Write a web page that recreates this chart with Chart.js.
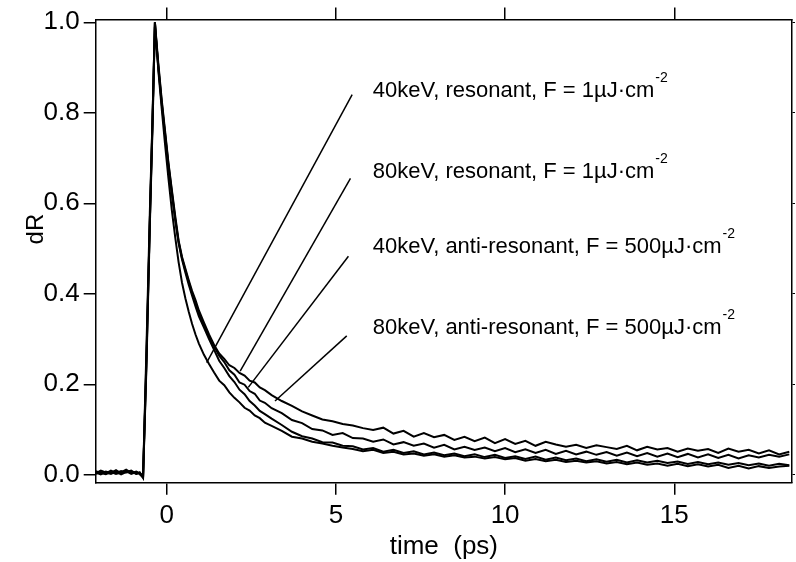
<!DOCTYPE html>
<html>
<head>
<meta charset="utf-8">
<script src="https://cdn.jsdelivr.net/npm/chart.js@4.4.1/dist/chart.umd.min.js"></script>
<style>
  html, body { margin: 0; padding: 0; background: #fff; }
  #wrap { width: 796px; height: 562px; }
</style>
</head>
<body>
<div id="wrap"><canvas id="grafico" width="796" height="562"></canvas></div>
<script>
// eje de tiempo (ps)
const time = [
  -2.1, -1.95, -1.8, -1.65, -1.5, -1.35, -1.2, -1.05, -0.9, -0.8, -0.7,
  -0.6, -0.5, -0.42, -0.35,
  -0.25, -0.15, -0.05, 0.05, 0.15, 0.25, 0.35, 0.45, 0.55, 0.65, 0.75, 0.85, 0.95,
  1.1, 1.25, 1.4, 1.55, 1.7, 1.85, 2.0, 2.15, 2.3, 2.45, 2.6, 2.75, 2.9,
  3.1, 3.4, 3.7, 4.0, 4.3, 4.6, 4.9, 5.2, 5.5, 5.8,
  6.1, 6.4, 6.7, 7.0, 7.3, 7.6, 7.9, 8.2, 8.5, 8.8,
  9.1, 9.4, 9.7, 10.0, 10.3, 10.6, 10.9, 11.2, 11.5, 11.8,
  12.1, 12.4, 12.7, 13.0, 13.3, 13.6, 13.9, 14.2, 14.5, 14.8,
  15.1, 15.4, 15.7, 16.0, 16.3, 16.6, 16.9, 17.2, 17.5, 17.8,
  18.1, 18.4
];

// curvas dR (normalizadas)
const dr40res = [
  0.002, 0.006, 0.003, 0.009, 0.004, 0.008, 0.005, 0.007, 0.002, 0.005, -0.004,
  0.26, 0.56, 0.78, 1.0,
  0.91, 0.83, 0.76, 0.69, 0.63, 0.572, 0.518, 0.482, 0.456, 0.43, 0.406, 0.386, 0.363,
  0.336, 0.31, 0.287, 0.268, 0.256, 0.242, 0.236, 0.225, 0.219, 0.208, 0.204, 0.193, 0.187,
  0.176, 0.163, 0.152, 0.14, 0.131, 0.122, 0.118, 0.112, 0.109, 0.103,
  0.099, 0.104, 0.091, 0.097, 0.084, 0.092, 0.083, 0.088, 0.077, 0.084,
  0.074, 0.082, 0.07, 0.079, 0.068, 0.075, 0.064, 0.073, 0.067, 0.062,
  0.066, 0.059, 0.065, 0.061, 0.057, 0.064, 0.054, 0.062, 0.056, 0.059,
  0.051, 0.058, 0.053, 0.057, 0.048, 0.058, 0.051, 0.055, 0.047, 0.054,
  0.045, 0.051
];
const dr80res = [
  0.005, 0.001, 0.007, 0.004, 0.01, 0.003, 0.008, 0.002, 0.006, 0.001, -0.006,
  0.24, 0.55, 0.77, 0.99,
  0.905, 0.825, 0.755, 0.686, 0.626, 0.566, 0.515, 0.479, 0.452, 0.426, 0.401, 0.38, 0.357,
  0.331, 0.306, 0.284, 0.263, 0.249, 0.231, 0.221, 0.204, 0.199, 0.185, 0.179, 0.164, 0.159,
  0.147, 0.136, 0.121, 0.114, 0.101, 0.098, 0.088, 0.092, 0.081, 0.08,
  0.073, 0.078, 0.067, 0.072, 0.064, 0.069, 0.06, 0.066, 0.056, 0.062,
  0.055, 0.06, 0.052, 0.059, 0.05, 0.056, 0.048, 0.055, 0.046, 0.053,
  0.045, 0.051, 0.044, 0.05, 0.042, 0.049, 0.041, 0.048, 0.04, 0.047,
  0.039, 0.046, 0.038, 0.045, 0.037, 0.044, 0.036, 0.043, 0.038, 0.044,
  0.04, 0.045
];
const dr40anti = [
  0.008, 0.004, 0.001, 0.006, 0.002, 0.005, 0.011, 0.004, 0.007, 0.003, -0.003,
  0.28, 0.58, 0.79, 1.0,
  0.9, 0.82, 0.75, 0.68, 0.62, 0.563, 0.512, 0.476, 0.447, 0.42, 0.396, 0.372, 0.35,
  0.325, 0.3, 0.276, 0.252, 0.236, 0.218, 0.205, 0.188, 0.178, 0.163, 0.153, 0.141, 0.134,
  0.124, 0.11, 0.095, 0.085, 0.08, 0.072, 0.071, 0.064, 0.063, 0.056,
  0.059, 0.051, 0.055, 0.048, 0.052, 0.045, 0.049, 0.043, 0.047, 0.041,
  0.045, 0.039, 0.044, 0.037, 0.041, 0.035, 0.04, 0.033, 0.038, 0.032,
  0.036, 0.03, 0.034, 0.029, 0.033, 0.027, 0.032, 0.027, 0.031, 0.026,
  0.029, 0.024, 0.028, 0.023, 0.027, 0.022, 0.026, 0.021, 0.025, 0.02,
  0.024, 0.021
];
const dr80anti = [
  0.003, 0.009, 0.005, 0.002, 0.007, 0.001, 0.006, 0.009, 0.002, 0.005, -0.007,
  0.25, 0.56, 0.79, 1.0,
  0.895, 0.81, 0.73, 0.655, 0.585, 0.525, 0.47, 0.425, 0.39, 0.36, 0.333, 0.31, 0.29,
  0.265, 0.245, 0.226, 0.208, 0.198, 0.182, 0.17, 0.16, 0.148, 0.142, 0.131, 0.125, 0.115,
  0.108, 0.097, 0.084, 0.08, 0.073, 0.069, 0.064, 0.06, 0.057, 0.052,
  0.055, 0.048, 0.051, 0.045, 0.047, 0.042, 0.045, 0.04, 0.043, 0.038,
  0.04, 0.036, 0.039, 0.034, 0.037, 0.031, 0.035, 0.03, 0.033, 0.028,
  0.031, 0.027, 0.03, 0.025, 0.028, 0.023, 0.027, 0.022, 0.025, 0.02,
  0.024, 0.019, 0.023, 0.018, 0.022, 0.015, 0.02, 0.014, 0.019, 0.015,
  0.018, 0.02
];

// etiquetas y líneas indicadoras
const labelText = [
  '40keV, resonant, F = 1µJ·cm',
  '80keV, resonant, F = 1µJ·cm',
  '40keV, anti-resonant, F = 500µJ·cm',
  '80keV, anti-resonant, F = 500µJ·cm'
];
const labelSup = '-2';
const labelX = 6.09;
const labelY = [0.836, 0.655, 0.49, 0.311];
const pointerX0 = [5.48, 5.43, 5.37, 5.32];
const pointerY0 = [0.84, 0.655, 0.483, 0.307];
const pointerX1 = [1.18, 2.17, 2.41, 3.2];
const pointerY1 = [0.248, 0.229, 0.193, 0.163];

// ticks
const xTicks = [0, 5, 10, 15];
const yTicks = [0.0, 0.2, 0.4, 0.6, 0.8, 1.0];

const fuente = '"Liberation Sans", Arial, Helvetica, sans-serif';

const curvas = [dr40res, dr80res, dr40anti, dr80anti].map(function(serie) {
  return {
    data: time.map(function(t, i) { return { x: t, y: serie[i] }; }),
    borderColor: '#000',
    borderWidth: 2,
    pointRadius: 0,
    tension: 0,
    fill: false
  };
});

const punteros = pointerX0.map(function(x0, i) {
  return {
    data: [{ x: x0, y: pointerY0[i] }, { x: pointerX1[i], y: pointerY1[i] }],
    borderColor: '#000',
    borderWidth: 1.5,
    pointRadius: 0,
    fill: false
  };
});

// texto de las etiquetas con superíndice, y título del eje y
const etiquetas = {
  id: 'etiquetas',
  afterDraw(chart) {
    const ctx = chart.ctx;
    const sx = chart.scales.x, sy = chart.scales.y;
    ctx.save();
    ctx.fillStyle = '#000';
    ctx.textBaseline = 'alphabetic';
    ctx.textAlign = 'left';
    labelText.forEach(function(txt, i) {
      const x = sx.getPixelForValue(labelX);
      const y = sy.getPixelForValue(labelY[i]);
      ctx.font = '22px ' + fuente;
      ctx.fillText(txt, x, y);
      const w = ctx.measureText(txt).width;
      ctx.font = '14px ' + fuente;
      ctx.fillText(labelSup, x + w + 1, y - 15);
    });
    // dR, un poco por encima del centro del eje
    ctx.translate(36, sy.getPixelForValue(0.543));
    ctx.rotate(-Math.PI / 2);
    ctx.textAlign = 'center';
    ctx.textBaseline = 'middle';
    ctx.font = '24px ' + fuente;
    ctx.fillText('dR', 0, 0);
    ctx.restore();
  }
};

const ejeGrid = { drawOnChartArea: false, drawTicks: true, tickLength: 12, color: '#000', lineWidth: 1.5 };
const ejeBorde = { display: true, color: '#000', width: 1.5 };

new Chart(document.getElementById('grafico').getContext('2d'), {
  type: 'line',
  data: { datasets: curvas.concat(punteros) },
  plugins: [etiquetas],
  options: {
    responsive: false,
    animation: false,
    devicePixelRatio: 1,
    layout: { padding: 0 },
    plugins: { legend: { display: false }, tooltip: { enabled: false } },
    scales: {
      x: {
        type: 'linear', position: 'bottom', min: -2.1, max: 18.48,
        afterBuildTicks: function(axis) { axis.ticks = xTicks.map(function(v) { return { value: v }; }); },
        afterFit: function(axis) { axis.height = 79.3; },
        ticks: { color: '#000', font: { family: fuente, size: 26 }, padding: 6, maxRotation: 0,
                 callback: function(v) { return String(v); } },
        grid: ejeGrid, border: ejeBorde,
        title: { display: true, text: 'time  (ps)', color: '#000', font: { family: fuente, size: 26 }, padding: 0 }
      },
      x2: {
        type: 'linear', position: 'top', min: -2.1, max: 18.48,
        afterBuildTicks: function(axis) { axis.ticks = xTicks.map(function(v) { return { value: v }; }); },
        afterFit: function(axis) { axis.height = 18.3; },
        ticks: { display: false },
        grid: ejeGrid, border: ejeBorde
      },
      y: {
        type: 'linear', position: 'left', min: -0.0176, max: 1.006,
        afterBuildTicks: function(axis) { axis.ticks = yTicks.map(function(v) { return { value: v }; }); },
        afterFit: function(axis) { axis.width = 95.7; },
        ticks: { color: '#000', font: { family: fuente, size: 26 }, padding: 4,
                 callback: function(v) { return v.toFixed(1); } },
        grid: ejeGrid, border: ejeBorde
      },
      y2: {
        type: 'linear', position: 'right', min: -0.0176, max: 1.006,
        afterBuildTicks: function(axis) { axis.ticks = yTicks.map(function(v) { return { value: v }; }); },
        afterFit: function(axis) { axis.width = 4; },
        ticks: { display: false },
        grid: { drawOnChartArea: false, drawTicks: true, tickLength: 3, color: '#000', lineWidth: 1 },
        border: ejeBorde
      }
    }
  }
});
</script>
</body>
</html>
